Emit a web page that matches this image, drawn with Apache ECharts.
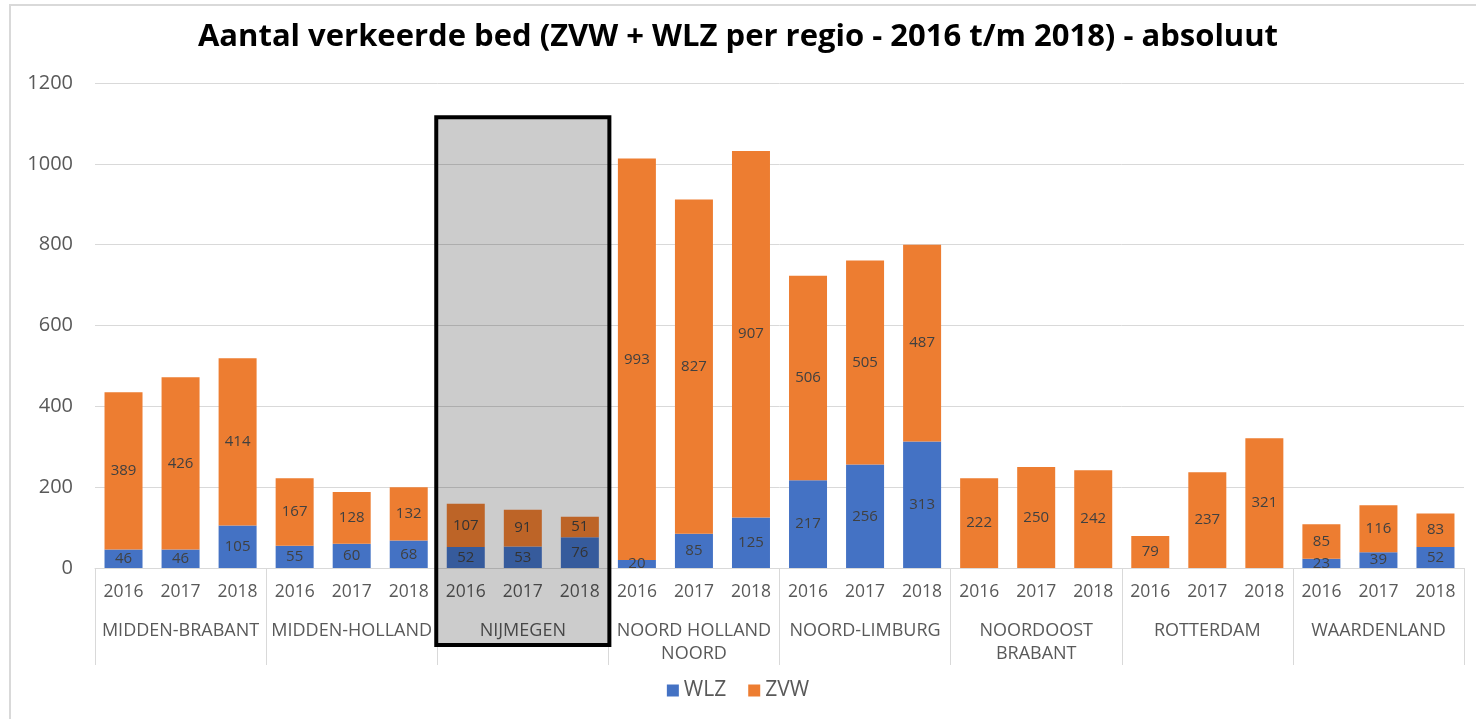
<!DOCTYPE html>
<html>
<head>
<meta charset="utf-8">
<script src="https://cdn.jsdelivr.net/npm/echarts@6/dist/echarts.min.js"></script>
<style>
  html, body { margin: 0; padding: 0; background: #fff; }
  #chart { width: 1476px; height: 719px; }
</style>
</head>
<body>
<div id="chart"></div>
<script>
// regio's en jaren
const regions = ['MIDDEN-BRABANT', 'MIDDEN-HOLLAND', 'NIJMEGEN', 'NOORD HOLLAND\nNOORD', 'NOORD-LIMBURG', 'NOORDOOST\nBRABANT', 'ROTTERDAM', 'WAARDENLAND']
const years = ['2016', '2017', '2018']
const yTicks = [0, 200, 400, 600, 800, 1000, 1200]

// waarden per regio x jaar
const wlz = [46, 46, 105, 55, 60, 68, 52, 53, 76, 20, 85, 125, 217, 256, 313, 0, 0, 0, 0, 0, 0, 23, 39, 52]
const zvw = [389, 426, 414, 167, 128, 132, 107, 91, 51, 993, 827, 907, 506, 505, 487, 222, 250, 242, 79, 237, 321, 85, 116, 83]

const highlight = 'NIJMEGEN'

const categories = []
regions.forEach(() => years.forEach(y => categories.push(y)))

const font = '"Open Sans", "Liberation Sans", sans-serif'
const txt = '#595959'

const chart = echarts.init(document.getElementById('chart'))

const labelCfg = {
  show: true,
  position: 'inside',
  color: '#404040',
  fontSize: 15,
  fontFamily: font,
  formatter: p => (p.value ? p.value : '')
}

let option = {
  animation: false,
  title: {
    text: 'Aantal verkeerde bed (ZVW + WLZ per regio - 2016 t/m 2018) - absoluut',
    left: 'center',
    top: 17,
    textStyle: { fontFamily: font, fontWeight: 'bold', fontSize: 31, color: '#000' }
  },
  legend: {
    bottom: 13,
    left: 'center',
    icon: 'rect',
    itemWidth: 12,
    itemHeight: 12,
    itemGap: 22,
    textStyle: { color: txt, fontSize: 21, fontFamily: font },
    data: ['WLZ', 'ZVW']
  },
  grid: { left: 95, right: 12, top: 83, bottom: 151 },
  xAxis: [
    {
      type: 'category',
      data: categories,
      axisLine: { lineStyle: { color: '#d9d9d9', width: 1 } },
      axisTick: { show: false },
      axisLabel: { color: txt, fontSize: 17.5, fontFamily: font, margin: 15, interval: 0 }
    },
    {
      type: 'category',
      data: regions,
      position: 'bottom',
      axisLine: { show: false },
      axisTick: { show: true, length: 97, lineStyle: { color: '#d9d9d9' } },
      axisLabel: { color: txt, fontSize: 18, fontFamily: font, margin: 51, interval: 0, lineHeight: 23, verticalAlign: 'top' }
    }
  ],
  yAxis: {
    type: 'value',
    min: yTicks[0],
    max: yTicks[yTicks.length - 1],
    interval: 200,
    axisLine: { show: false },
    axisTick: { show: false },
    axisLabel: { color: txt, fontSize: 20, fontFamily: font, margin: 22, formatter: v => String(v) },
    splitLine: { lineStyle: { color: '#d9d9d9', width: 1 } }
  },
  series: [
    {
      name: 'WLZ', type: 'bar', stack: 'tot', barWidth: 38,
      itemStyle: { color: '#4472C4' },
      label: labelCfg,
      data: wlz
    },
    {
      name: 'ZVW', type: 'bar', stack: 'tot', barWidth: 38,
      itemStyle: { color: '#ED7D31' },
      label: labelCfg,
      data: zvw
    }
  ]
}
chart.setOption(option)

// grijze markering rond de gekozen regio
const hi = regions.indexOf(highlight)
const c0 = chart.convertToPixel({ xAxisIndex: 0 }, hi * 3)
const c1 = chart.convertToPixel({ xAxisIndex: 0 }, hi * 3 + 1)
const c2 = chart.convertToPixel({ xAxisIndex: 0 }, hi * 3 + 2)
const band = c1 - c0
const yTop = chart.convertToPixel({ yAxisIndex: 0 }, 1115)
const yBase = chart.convertToPixel({ yAxisIndex: 0 }, 0)
const x0 = c0 - band / 2 - 1
const x1 = c2 + band / 2 + 1

chart.setOption({
  graphic: [
    {
      type: 'rect', z: 100,
      shape: { x: x0, y: yTop, width: x1 - x0, height: yBase + 77 - yTop },
      style: { fill: 'rgba(0,0,0,0.2)', stroke: '#000', lineWidth: 4 }
    },
    {
      type: 'polyline', z: 1,
      shape: { points: [[10, 719], [10, 5], [1476, 5]] },
      style: { stroke: '#d9d9d9', lineWidth: 2, fill: null }
    }
  ]
})
</script>
</body>
</html>
